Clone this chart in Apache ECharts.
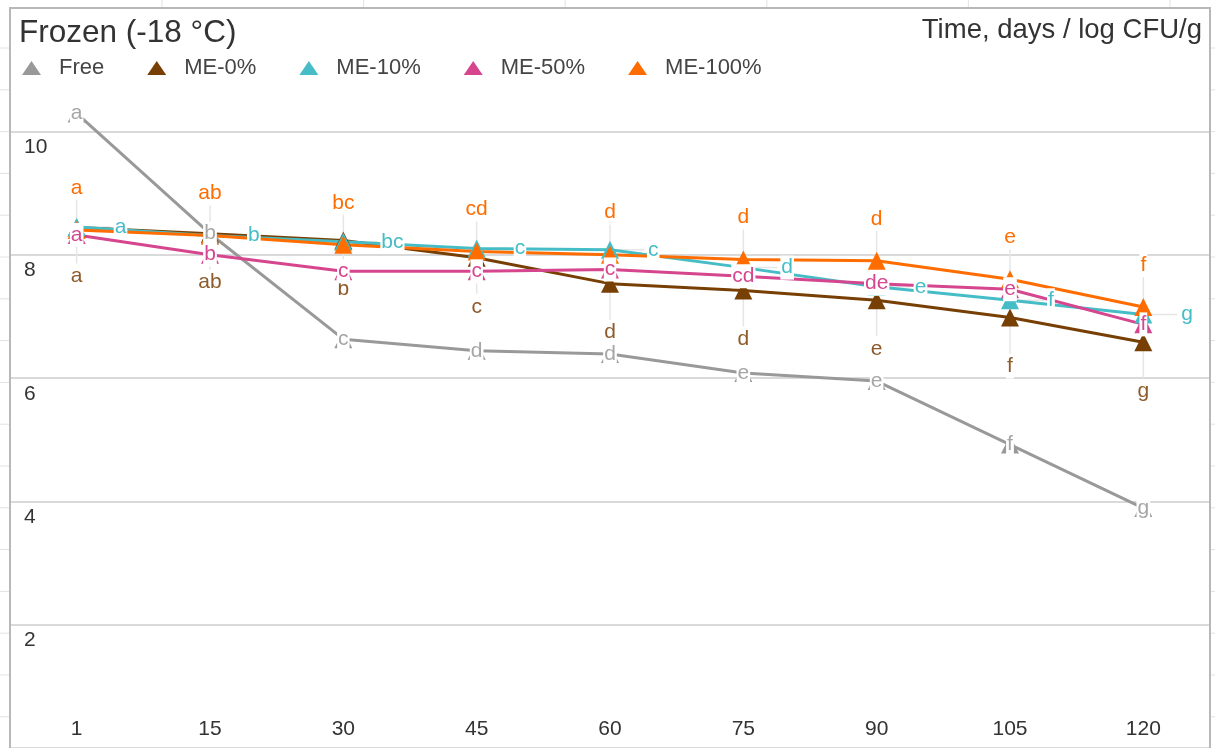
<!DOCTYPE html>
<html>
<head>
<meta charset="utf-8">
<script src="https://cdn.jsdelivr.net/npm/echarts@6/dist/echarts.min.js"></script>
<style>
  html, body { margin: 0; padding: 0; background: #fff; }
  #chart { width: 1215px; height: 748px; }
</style>
</head>
<body>
<div id="chart"></div>
<script>
// time, days
var days = ['1', '15', '30', '45', '60', '75', '90', '105', '120']
// log CFU/g
var free = [10.29, 8.34, 6.63, 6.44, 6.39, 6.08, 5.95, 4.92, 3.89]
var me0 = [8.44, 8.34, 8.23, 7.95, 7.53, 7.42, 7.26, 6.98, 6.58]
var me10 = [8.45, 8.31, 8.21, 8.10, 8.08, 7.79, 7.48, 7.26, 7.03]
var me50 = [8.32, 8.00, 7.73, 7.73, 7.76, 7.65, 7.53, 7.44, 6.87]
var me100 = [8.40, 8.31, 8.16, 8.05, 8.00, 7.92, 7.90, 7.60, 7.15]
// significance letters
var freeLetters = ['a', 'b', 'c', 'd', 'd', 'e', 'e', 'f', 'g']
var me0Letters = ['a', 'ab', 'b', 'c', 'd', 'd', 'e', 'f', 'g']
var me10Letters = ['a', 'b', 'bc', 'c', 'c', 'd', 'e', 'f', 'g']
var me50Letters = ['a', 'b', 'c', 'c', 'c', 'cd', 'de', 'e', 'f']
var me100Letters = ['a', 'ab', 'bc', 'cd', 'd', 'd', 'd', 'e', 'f']
var yTicks = [0, 12, 2]

var FONT = '"Liberation Sans", Arial, sans-serif'

function makeSeries (name, data, letters, color, labelColor, pos, dist) {
  return {
    name: name,
    type: 'line',
    data: data,
    symbol: 'triangle',
    symbolSize: 18,
    z: 3,
    lineStyle: { width: 3, color: color },
    itemStyle: { color: color },
    label: {
      show: true,
      position: pos,
      distance: dist,
      color: labelColor,
      fontSize: 21,
      fontFamily: FONT,
      lineHeight: 24,
      backgroundColor: '#fff',
      padding: [0, 1],
      formatter: function (p) { return letters[p.dataIndex] }
    },
    emphasis: { disabled: true },
    animation: false
  }
}

// faint leader line from a data label to its point
function leader (data, dx, dy) {
  return {
    type: 'custom',
    data: data.map(function (v, i) { return [i, v] }),
    z: 1,
    silent: true,
    animation: false,
    renderItem: function (params, api) {
      var p = api.coord([api.value(0), api.value(1)])
      return {
        type: 'line',
        shape: { x1: p[0], y1: p[1], x2: p[0] + dx, y2: p[1] + dy },
        style: { stroke: '#e6e6e6', lineWidth: 1.5 }
      }
    }
  }
}

// spreadsheet cell lines around the chart box
var sheet = []
for (var i = 0; i < 18; i++) {
  var ry = 48 + i * 41.8
  sheet.push({ type: 'line', shape: { x1: 0, y1: ry, x2: 9, y2: ry }, style: { stroke: '#e2e2e2', lineWidth: 1 } })
  sheet.push({ type: 'line', shape: { x1: 1211, y1: ry, x2: 1215, y2: ry }, style: { stroke: '#e2e2e2', lineWidth: 1 } })
}
for (var j = 0; j < 6; j++) {
  var cx = 162 + j * 201.6
  sheet.push({ type: 'line', shape: { x1: cx, y1: 0, x2: cx, y2: 7 }, style: { stroke: '#e2e2e2', lineWidth: 1 } })
}
sheet.push({ type: 'rect', shape: { x: 10, y: 8, width: 1200, height: 760 }, style: { fill: null, stroke: '#b8b8b8', lineWidth: 2 }, z: 100 })

var myChart = echarts.init(document.getElementById('chart'))
var option = {
  backgroundColor: '#fff',
  animation: false,
  title: [
    {
      text: 'Frozen (-18 °C)',
      left: 19,
      top: 14,
      padding: 0,
      textStyle: { fontSize: 31.5, fontWeight: 'normal', color: '#333', fontFamily: FONT, lineHeight: 38 }
    },
    {
      text: 'Time, days / log CFU/g',
      right: 13,
      top: 14,
      padding: 0,
      textStyle: { fontSize: 27.5, fontWeight: 'normal', color: '#333', fontFamily: FONT, lineHeight: 32 }
    }
  ],
  legend: {
    left: 22,
    top: 57,
    padding: 0,
    icon: 'triangle',
    itemWidth: 19,
    itemHeight: 14,
    itemGap: 43,
    textStyle: { fontSize: 22, color: '#444', fontFamily: FONT, padding: [0, 0, 0, 13] },
    data: ['Free', 'ME-0%', 'ME-10%', 'ME-50%', 'ME-100%']
  },
  grid: { left: 10, top: 8, width: 1200, height: 743, containLabel: false },
  xAxis: {
    type: 'category',
    data: days,
    axisLine: { show: false },
    axisTick: { show: false },
    axisLabel: {
      inside: true,
      margin: 6,
      verticalAlign: 'bottom',
      lineHeight: 26,
      fontSize: 21,
      color: '#333',
      fontFamily: FONT
    }
  },
  yAxis: {
    type: 'value',
    min: yTicks[0],
    max: yTicks[1],
    interval: yTicks[2],
    axisLine: { show: false },
    axisTick: { show: false },
    splitLine: { lineStyle: { color: '#d9d9d9', width: 2 } },
    axisLabel: {
      inside: true,
      margin: 14,
      align: 'left',
      verticalAlign: 'top',
      lineHeight: 26,
      padding: [3, 0, 0, 0],
      fontSize: 21,
      color: '#333',
      fontFamily: FONT,
      showMinLabel: false,
      showMaxLabel: false
    }
  },
  graphic: sheet,
  series: [
    leader(me100, 0, -32),
    leader(me0, 0, 36),
    leader(me10, 34, 0),
    makeSeries('Free', free, freeLetters, '#999999', '#a6a6a6', 'inside', 0),
    makeSeries('ME-0%', me0, me0Letters, '#783f04', '#8e5a2a', 'bottom', 28),
    makeSeries('ME-10%', me10, me10Letters, '#46bdc6', '#46bdc6', 'right', 28),
    makeSeries('ME-50%', me50, me50Letters, '#d6468f', '#d6468f', 'inside', 0),
    makeSeries('ME-100%', me100, me100Letters, '#ff6d01', '#ff6d01', 'top', 21)
  ]
}
myChart.clear()
myChart.setOption(option)
</script>
</body>
</html>
